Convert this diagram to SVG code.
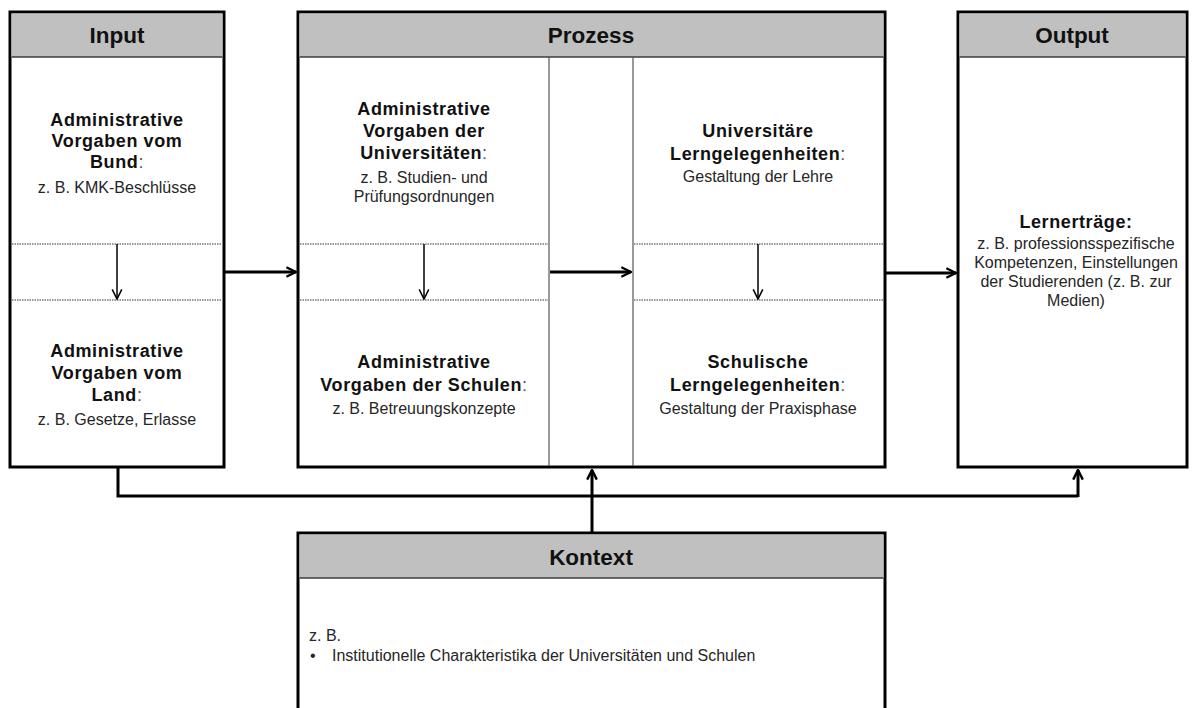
<svg xmlns="http://www.w3.org/2000/svg" width="1196" height="708" viewBox="0 0 1196 708">
  <style>
    .frame { fill: #ffffff; stroke: #000000; stroke-width: 3; }
    .head { fill: #c0c0c0; stroke: none; }
    .headline { stroke: #3c3c3c; stroke-width: 1.5; }
    .divider { stroke: #555555; stroke-width: 1.2; }
    .dots { stroke: #333333; stroke-width: 1; stroke-dasharray: 1.5 1; }
    .title { font-family: "Liberation Sans", Arial, sans-serif; font-weight: bold; font-size: 22.5px; fill: #111111; text-anchor: middle; }
    .bold { font-family: "Liberation Sans", Arial, sans-serif; font-weight: bold; font-size: 18px; fill: #111111; text-anchor: middle; letter-spacing: 0.6px; }
    .norm { font-family: "Liberation Sans", Arial, sans-serif; font-size: 16px; fill: #262626; text-anchor: middle; }
    .colon { font-weight: normal; fill: #555555; }
    .left { text-anchor: start; }
    .conn { fill: none; stroke: #000000; stroke-width: 3; }
    .inner { fill: none; stroke: #000000; stroke-width: 1.5; }
  </style>
  <defs>
    <marker id="chev" viewBox="0 0 10 10" refX="9" refY="5" markerWidth="4" markerHeight="4" orient="auto" markerUnits="strokeWidth">
      <path d="M1,1 L9,5 L1,9" fill="none" stroke="#000000" stroke-width="2"/>
    </marker>
    <marker id="chevThin" viewBox="0 0 10 10" refX="9" refY="5" markerWidth="8" markerHeight="8" orient="auto" markerUnits="strokeWidth">
      <path d="M1,1 L9,5 L1,9" fill="none" stroke="#000000" stroke-width="1.3"/>
    </marker>
  </defs>

  <!-- Input -->
  <g id="input">
    <rect class="frame" x="10" y="12" width="214" height="455"/>
    <rect class="head" x="11.5" y="13.5" width="211" height="43.5"/>
    <line class="headline" x1="11.5" y1="57" x2="222.5" y2="57"/>
    <line class="dots" x1="12" y1="244" x2="222" y2="244"/>
    <line class="dots" x1="12" y1="300" x2="222" y2="300"/>
    <text class="title" x="117" y="43">Input</text>
    <text class="bold" x="117" y="126">Administrative</text>
    <text class="bold" x="117" y="147">Vorgaben vom</text>
    <text class="bold" x="117" y="168">Bund<tspan class="colon">:</tspan></text>
    <text class="norm" x="117" y="193">z. B. KMK-Beschlüsse</text>
    <text class="bold" x="117" y="357">Administrative</text>
    <text class="bold" x="117" y="379">Vorgaben vom</text>
    <text class="bold" x="117" y="401">Land<tspan class="colon">:</tspan></text>
    <text class="norm" x="117" y="425">z. B. Gesetze, Erlasse</text>
  </g>

  <!-- Prozess -->
  <g id="prozess">
    <rect class="frame" x="298" y="12" width="587" height="455"/>
    <rect class="head" x="299.5" y="13.5" width="584" height="43.5"/>
    <line class="headline" x1="299.5" y1="57" x2="883.5" y2="57"/>
    <line class="divider" x1="549" y1="57" x2="549" y2="466"/>
    <line class="divider" x1="633" y1="57" x2="633" y2="466"/>
    <line class="dots" x1="300" y1="244" x2="548" y2="244"/>
    <line class="dots" x1="300" y1="300" x2="548" y2="300"/>
    <line class="dots" x1="634" y1="244" x2="883" y2="244"/>
    <line class="dots" x1="634" y1="300" x2="883" y2="300"/>
    <text class="title" x="591" y="43">Prozess</text>
    <text class="bold" x="424" y="115">Administrative</text>
    <text class="bold" x="424" y="137">Vorgaben der</text>
    <text class="bold" x="424" y="159">Universitäten<tspan class="colon">:</tspan></text>
    <text class="norm" x="424" y="183">z. B. Studien- und</text>
    <text class="norm" x="424" y="202">Prüfungsordnungen</text>
    <text class="bold" x="424" y="368">Administrative</text>
    <text class="bold" x="424" y="391">Vorgaben der Schulen<tspan class="colon">:</tspan></text>
    <text class="norm" x="424" y="414">z. B. Betreuungskonzepte</text>
    <text class="bold" x="758" y="137">Universitäre</text>
    <text class="bold" x="758" y="160">Lerngelegenheiten<tspan class="colon">:</tspan></text>
    <text class="norm" x="758" y="182">Gestaltung der Lehre</text>
    <text class="bold" x="758" y="368">Schulische</text>
    <text class="bold" x="758" y="391">Lerngelegenheiten<tspan class="colon">:</tspan></text>
    <text class="norm" x="758" y="414">Gestaltung der Praxisphase</text>
  </g>

  <!-- Output -->
  <g id="output">
    <rect class="frame" x="958" y="12" width="229" height="455"/>
    <rect class="head" x="959.5" y="13.5" width="226" height="43.5"/>
    <line class="headline" x1="959.5" y1="57" x2="1185.5" y2="57"/>
    <text class="title" x="1072" y="43">Output</text>
    <text class="bold" x="1076" y="228">Lernerträge:</text>
    <text class="norm" x="1076" y="249">z. B. professionsspezifische</text>
    <text class="norm" x="1076" y="268">Kompetenzen, Einstellungen</text>
    <text class="norm" x="1076" y="287">der Studierenden (z. B. zur</text>
    <text class="norm" x="1076" y="306">Medien)</text>
  </g>

  <!-- Kontext -->
  <g id="kontext">
    <rect class="frame" x="298" y="533" width="587" height="190"/>
    <rect class="head" x="299.5" y="534.5" width="584" height="43.5"/>
    <line class="headline" x1="299.5" y1="578" x2="883.5" y2="578"/>
    <text class="title" x="591" y="565">Kontext</text>
    <text class="norm left" x="309" y="641">z. B.</text>
    <text class="norm left" x="310" y="661">•</text>
    <text class="norm left" x="332" y="661">Institutionelle Charakteristika der Universitäten und Schulen</text>
  </g>

  <!-- Connectors -->
  <g id="connectors">
    <line class="inner" x1="117" y1="244" x2="117" y2="299" marker-end="url(#chevThin)"/>
    <line class="inner" x1="424" y1="244" x2="424" y2="299" marker-end="url(#chevThin)"/>
    <line class="inner" x1="758" y1="244" x2="758" y2="299" marker-end="url(#chevThin)"/>
    <line class="conn" x1="225" y1="272" x2="296" y2="272" marker-end="url(#chev)"/>
    <line class="conn" x1="550" y1="272" x2="631" y2="272" marker-end="url(#chev)"/>
    <line class="conn" x1="886" y1="273" x2="956" y2="273" marker-end="url(#chev)"/>
    <polyline class="conn" points="118,468 118,496 1078,496"/>
    <line class="conn" x1="1078" y1="497" x2="1078" y2="470" marker-end="url(#chev)"/>
    <line class="conn" x1="592" y1="533" x2="592" y2="470" marker-end="url(#chev)"/>
  </g>
</svg>
